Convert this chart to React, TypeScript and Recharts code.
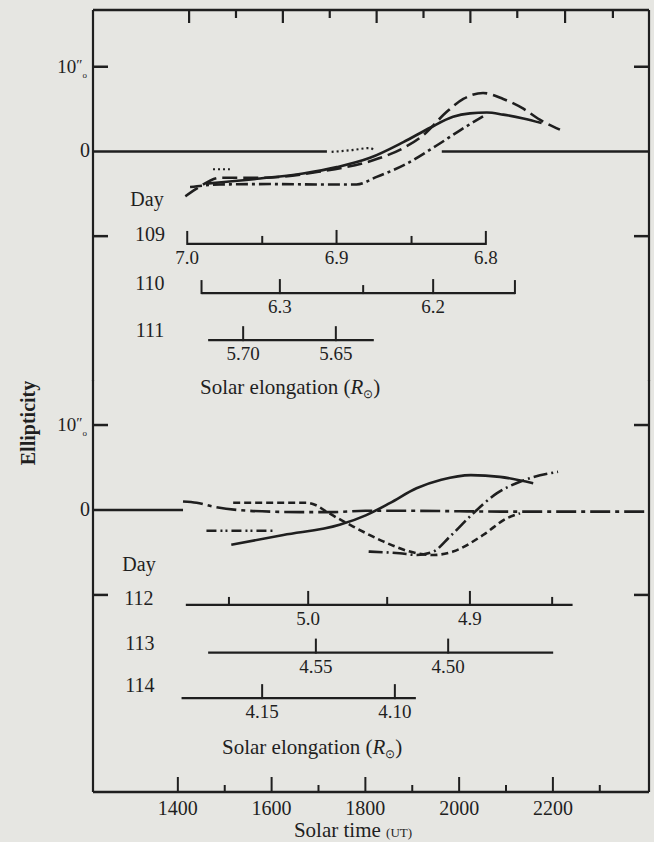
import React from 'react';
import { ComposedChart, Line, Scatter, XAxis, YAxis } from 'recharts';

// ---------- axes / layout constants ----------
const T_MIN = 1219;
const T_MAX = 2405;
const UP_DOMAIN: [number, number] = [-27.1, 16.7];
const LO_DOMAIN: [number, number] = [-33.2, 15.3];

const topTicks = [1424, 1524, 1624, 1724, 1824, 1924, 2024, 2124, 2226, 2328];
const topLongTicks = [1424, 1624, 1824, 2024, 2226];
const bottomTicks = [1400, 1500, 1600, 1700, 1800, 1900, 2000, 2100, 2200, 2300];
const bottomLabelTicks = [1400, 1600, 1800, 2000, 2200];
const leftTicks = [10, 0, -10];
const rightTicks = [10, -10];

// ---------- upper panel (days 109-111) ----------
const upSolidT = [1461, 1575, 1667, 1739, 1810, 1881, 1938, 1987, 2023, 2059, 2094, 2137, 2176];
const upSolidE = [-3.8, -3.2, -2.6, -1.85, -0.75, 1.1, 2.8, 4.1, 4.5, 4.6, 4.35, 3.9, 3.35];

const upDashT = [1416, 1440, 1490, 1582, 1700, 1824, 1881, 1923, 1973, 2009, 2051, 2094, 2137, 2172, 2215];
const upDashE = [-5.3, -4.4, -3.1, -3.1, -2.4, -0.9, 0.4, 1.9, 4.65, 6.2, 6.9, 6.2, 5.05, 3.75, 2.57];

const upDashDotT = [1426, 1490, 1596, 1703, 1781, 1824, 1881, 1952, 2002, 2051];
const upDashDotE = [-4.2, -3.9, -3.85, -3.9, -3.9, -3.0, -1.65, 0.7, 2.5, 4.15];

const upDotAT = [1728, 1770, 1810, 1820];
const upDotAE = [-0.05, 0.15, 0.4, 0.05];

const upDotBT = [1475, 1511];
const upDotBE = [-2.1, -2.1];

const upZeroA = [T_MIN, 1718];
const upZeroB = [1963, T_MAX];

// ---------- lower panel (days 112-114) ----------
const loSolidT = [1514, 1625, 1745, 1802, 1852, 1909, 1962, 2025, 2087, 2158];
const loSolidE = [-4.1, -2.95, -1.75, -0.6, 0.8, 2.55, 3.55, 4.1, 3.9, 3.15];

const loShortDashT = [1518, 1675, 1695, 1717, 1774, 1838, 1895, 1945, 1987, 2051, 2101, 2130];
const loShortDashE = [0.85, 0.85, 0.55, -0.2, -1.95, -3.7, -4.9, -5.3, -4.9, -2.95, -1.0, -0.4];

const loRiseT = [1807, 1873, 1910, 1945, 1980, 2030, 2080, 2131, 2211];
const loRiseE = [-4.9, -5.1, -5.3, -4.9, -3.15, -0.4, 1.95, 3.35, 4.5];

const loZeroDashT = [1411, 1440, 1475, 1554, 1660, 1731, 1800, 1900, 2000, 2100, 2200, T_MAX];
const loZeroDashE = [1.0, 0.85, 0.4, -0.1, -0.25, -0.25, -0.1, -0.1, -0.15, -0.2, -0.2, -0.2];

const loShortT = [1461, 1607];
const loShortE = [-2.45, -2.45];

const loZeroA = [T_MIN, 1411];

// ---------- solar elongation scales ----------
// kind: 'end' | 'major' | 'minor'
const day109Range = [1420, 2057];
const day109Ticks = [
  { t: 1420, kind: 'end', label: '7.0' },
  { t: 1580, kind: 'minor', label: '' },
  { t: 1738.5, kind: 'major', label: '6.9' },
  { t: 1898.5, kind: 'minor', label: '' },
  { t: 2057, kind: 'end', label: '6.8' },
];
const day110Range = [1450.5, 2119];
const day110Ticks = [
  { t: 1450.5, kind: 'end', label: '' },
  { t: 1617.6, kind: 'major', label: '6.3' },
  { t: 1795.3, kind: 'minor', label: '' },
  { t: 1944.6, kind: 'major', label: '6.2' },
  { t: 2119, kind: 'end', label: '' },
];
const day111Range = [1464.6, 1818];
const day111Ticks = [
  { t: 1539.3, kind: 'major', label: '5.70' },
  { t: 1737, kind: 'major', label: '5.65' },
];
const day112Range = [1417, 2242];
const day112Ticks = [
  { t: 1509, kind: 'minor', label: '' },
  { t: 1678, kind: 'major', label: '5.0' },
  { t: 1846.5, kind: 'minor', label: '' },
  { t: 2023, kind: 'major', label: '4.9' },
  { t: 2198.4, kind: 'minor', label: '' },
];
const day113Range = [1464.6, 2200.6];
const day113Ticks = [
  { t: 1694.4, kind: 'major', label: '4.55' },
  { t: 1976.6, kind: 'major', label: '4.50' },
];
const day114Range = [1407.9, 1907.7];
const day114Ticks = [
  { t: 1579.8, kind: 'major', label: '4.15' },
  { t: 1862.9, kind: 'major', label: '4.10' },
];

// vertical placement of the scale rows (in panel units)
const ROW_Y: Record<string, number> = {
  d109: -10.92, d110: -16.72, d111: -22.28,
  d112: -11.18, d113: -16.79, d114: -22.15,
};

// ---------- layout / styling ----------
const PLOT_LEFT = 93;
const PLOT_RIGHT = 649;
const PLOT_TOP = 10;
const INK = '#1f1f1f';
const BG = '#e6e6e2';
const FONT = '"Liberation Serif", "Times New Roman", Times, serif';

const zip = (ts: number[], es: number[]) => ts.map((t, i) => ({ t, y: es[i] }));
const flat = (ts: number[], y: number) => ts.map((t) => ({ t, y }));
const tickRow = (ticks: any[], y: number) => ticks.map((k) => ({ ...k, y }));
const frameX = (t: number) => PLOT_LEFT + ((t - T_MIN) / (T_MAX - T_MIN)) * (PLOT_RIGHT - PLOT_LEFT);

const TICK_LEN: Record<string, number> = { end: 13, major: 14, minor: 8 };

const ScaleTick = (props: any) => {
  const { cx, cy, payload } = props;
  if (cx == null || cy == null) return null;
  const len = TICK_LEN[payload.kind] || 10;
  return (
    <g>
      <line x1={cx} y1={cy + 1} x2={cx} y2={cy - len} stroke={INK} strokeWidth={2} />
      {payload.label ? (
        <text x={cx} y={cy + 20} textAnchor="middle" fontSize={19} fontFamily={FONT} fill={INK}>
          {payload.label}
        </text>
      ) : null}
    </g>
  );
};

const BottomTick = (props: any) => {
  const { x, y, payload } = props;
  const major = bottomLabelTicks.includes(payload.value);
  return (
    <g>
      <line x1={x} y1={y} x2={x} y2={y - (major ? 15 : 7)} stroke={INK} strokeWidth={2} />
      {major ? (
        <text x={x} y={y + 23} textAnchor="middle" fontSize={20} fontFamily={FONT} fill={INK}>
          {payload.value}
        </text>
      ) : null}
    </g>
  );
};

const LeftTick = (props: any) => {
  const { x, y, payload } = props;
  const v = payload.value;
  return (
    <g>
      {v !== 0 ? <line x1={x} y1={y} x2={x + 15} y2={y} stroke={INK} strokeWidth={2.5} /> : null}
      {v === 10 ? (
        <text x={x - 6} y={y + 6} textAnchor="end" fontSize={19} fontFamily={FONT} fill={INK}>
          10<tspan fontSize={15} dy={-3}>″</tspan>
          <tspan fontSize={9} dy={8}>o</tspan>
        </text>
      ) : null}
      {v === 0 ? (
        <text x={x - 3} y={y + 6} textAnchor="end" fontSize={20} fontFamily={FONT} fill={INK}>
          0
        </text>
      ) : null}
    </g>
  );
};

const RightTick = (props: any) => {
  const { x, y } = props;
  return <line x1={x} y1={y} x2={x - 15} y2={y} stroke={INK} strokeWidth={2.5} />;
};

const lineCommon = {
  xAxisId: 't',
  yAxisId: 'l',
  dataKey: 'y',
  dot: false,
  activeDot: false,
  isAnimationActive: false,
  stroke: INK,
  strokeWidth: 2.6,
} as any;

const scaleLine = (range: number[], y: number, key: string) => (
  <Line key={key} {...lineCommon} data={flat(range, y)} type="linear" strokeWidth={2.2} />
);
const scaleTicks = (ticks: any[], y: number, key: string) => (
  <Scatter
    key={key}
    xAxisId="t"
    yAxisId="l"
    data={tickRow(ticks, y)}
    shape={(p: any) => <ScaleTick {...p} />}
    isAnimationActive={false}
  />
);

const xAxisEl = (bottom: boolean) => (
  <XAxis
    xAxisId="t"
    type="number"
    dataKey="t"
    orientation={bottom ? 'bottom' : 'top'}
    domain={[T_MIN, T_MAX]}
    allowDataOverflow
    ticks={bottom ? bottomTicks : topTicks}
    interval={0}
    height={1}
    tickSize={0}
    tickMargin={0}
    tickLine={false}
    axisLine={{ stroke: INK, strokeWidth: 2.5 }}
    tick={bottom ? (p: any) => <BottomTick {...p} /> : false}
  />
);
const leftAxisEl = (domain: [number, number]) => (
  <YAxis
    yAxisId="l"
    type="number"
    dataKey="y"
    domain={domain}
    allowDataOverflow
    ticks={leftTicks}
    interval={0}
    width={1}
    tickSize={0}
    tickMargin={0}
    tickLine={false}
    axisLine={{ stroke: INK, strokeWidth: 2.2 }}
    tick={(p: any) => <LeftTick {...p} />}
  />
);
const rightAxisEl = (domain: [number, number]) => (
  <YAxis
    yAxisId="r"
    orientation="right"
    type="number"
    dataKey="y"
    domain={domain}
    allowDataOverflow
    ticks={rightTicks}
    interval={0}
    width={1}
    tickSize={0}
    tickMargin={0}
    tickLine={false}
    axisLine={{ stroke: INK, strokeWidth: 2.2 }}
    tick={(p: any) => <RightTick {...p} />}
  />
);

const txt = { fontFamily: FONT, fill: INK } as any;

export default function App() {
  return (
    <div
      style={{
        position: 'fixed',
        left: 0,
        top: 0,
        width: 654,
        height: 842,
        background: BG,
        overflow: 'hidden',
      }}
    >
      <div style={{ position: 'absolute', left: 0, top: 0 }}>
        <ComposedChart width={654} height={400} margin={{ top: PLOT_TOP - 1, right: 654 - PLOT_RIGHT - 1, bottom: 19, left: PLOT_LEFT - 1 }}>
          {xAxisEl(false)}
          {leftAxisEl(UP_DOMAIN)}
          {rightAxisEl(UP_DOMAIN)}
          <Line {...lineCommon} data={flat(upZeroA, 0)} type="linear" strokeWidth={2.4} />
          <Line {...lineCommon} data={flat(upZeroB, 0)} type="linear" strokeWidth={2.4} />
          <Line {...lineCommon} data={zip(upDotAT, upDotAE)} type="monotone" strokeDasharray="2 3" strokeWidth={2.2} />
          <Line {...lineCommon} data={zip(upDotBT, upDotBE)} type="linear" strokeDasharray="2 3" strokeWidth={2.2} />
          <Line {...lineCommon} data={zip(upDashDotT, upDashDotE)} type="monotone" strokeDasharray="12 4 3 4" />
          <Line {...lineCommon} data={zip(upDashT, upDashE)} type="monotone" strokeDasharray="15 6" />
          <Line {...lineCommon} data={zip(upSolidT, upSolidE)} type="monotone" />
          {scaleLine(day109Range, ROW_Y.d109, 'l109')}
          {scaleLine(day110Range, ROW_Y.d110, 'l110')}
          {scaleLine(day111Range, ROW_Y.d111, 'l111')}
          {scaleTicks(day109Ticks, ROW_Y.d109, 's109')}
          {scaleTicks(day110Ticks, ROW_Y.d110, 's110')}
          {scaleTicks(day111Ticks, ROW_Y.d111, 's111')}
        </ComposedChart>
      </div>
      <div style={{ position: 'absolute', left: 0, top: 380 }}>
        <ComposedChart width={654} height={462} margin={{ top: 0, right: 654 - PLOT_RIGHT - 1, bottom: 49, left: PLOT_LEFT - 1 }}>
          {xAxisEl(true)}
          {leftAxisEl(LO_DOMAIN)}
          {rightAxisEl(LO_DOMAIN)}
          <Line {...lineCommon} data={flat(loZeroA, 0)} type="linear" strokeWidth={2.4} />
          <Line {...lineCommon} data={zip(loZeroDashT, loZeroDashE)} type="monotone" strokeDasharray="20 5 4 5" />
          <Line {...lineCommon} data={zip(loShortT, loShortE)} type="linear" strokeDasharray="10 4 2 3 2 4" />
          <Line {...lineCommon} data={zip(loShortDashT, loShortDashE)} type="monotone" strokeDasharray="7 4" />
          <Line {...lineCommon} data={zip(loRiseT, loRiseE)} type="monotone" strokeDasharray="14 4 2 4" />
          <Line {...lineCommon} data={zip(loSolidT, loSolidE)} type="monotone" />
          {scaleLine(day112Range, ROW_Y.d112, 'l112')}
          {scaleLine(day113Range, ROW_Y.d113, 'l113')}
          {scaleLine(day114Range, ROW_Y.d114, 'l114')}
          {scaleTicks(day112Ticks, ROW_Y.d112, 's112')}
          {scaleTicks(day113Ticks, ROW_Y.d113, 's113')}
          {scaleTicks(day114Ticks, ROW_Y.d114, 's114')}
        </ComposedChart>
      </div>
      <svg width={654} height={842} style={{ position: 'absolute', left: 0, top: 0, pointerEvents: 'none' }}>
        {/* frame ticks hanging from the top border */}
        {topTicks.map((t) => (
          <line
            key={'tt' + t}
            x1={frameX(t)}
            y1={PLOT_TOP}
            x2={frameX(t)}
            y2={PLOT_TOP + (topLongTicks.includes(t) ? 13 : 8)}
            stroke={INK}
            strokeWidth={2.2}
          />
        ))}
        <g {...txt} fontSize={20}>
          <text x={147} y={206} textAnchor="middle">Day</text>
          <text x={150} y={241} textAnchor="middle">109</text>
          <text x={150} y={290} textAnchor="middle">110</text>
          <text x={150} y={337} textAnchor="middle">111</text>
          <text x={200} y={394} fontSize={21}>
            Solar elongation (<tspan fontStyle="italic">R</tspan>
            <tspan fontSize={12} dy={4}>⊙</tspan>
            <tspan dy={-4}>)</tspan>
          </text>
          <text x={139} y={571} textAnchor="middle">Day</text>
          <text x={139} y={605} textAnchor="middle">112</text>
          <text x={140} y={650} textAnchor="middle">113</text>
          <text x={140} y={692} textAnchor="middle">114</text>
          <text x={222} y={754} fontSize={21}>
            Solar elongation (<tspan fontStyle="italic">R</tspan>
            <tspan fontSize={12} dy={4}>⊙</tspan>
            <tspan dy={-4}>)</tspan>
          </text>
          <text
            x={28}
            y={423}
            transform="rotate(-90, 28, 423)"
            textAnchor="middle"
            dominantBaseline="central"
            fontWeight="bold"
            fontSize={20}
          >
            Ellipticity
          </text>
          <text x={353} y={837} textAnchor="middle" fontSize={21}>
            Solar time <tspan fontSize={13}>(UT)</tspan>
          </text>
        </g>
      </svg>
    </div>
  );
}
